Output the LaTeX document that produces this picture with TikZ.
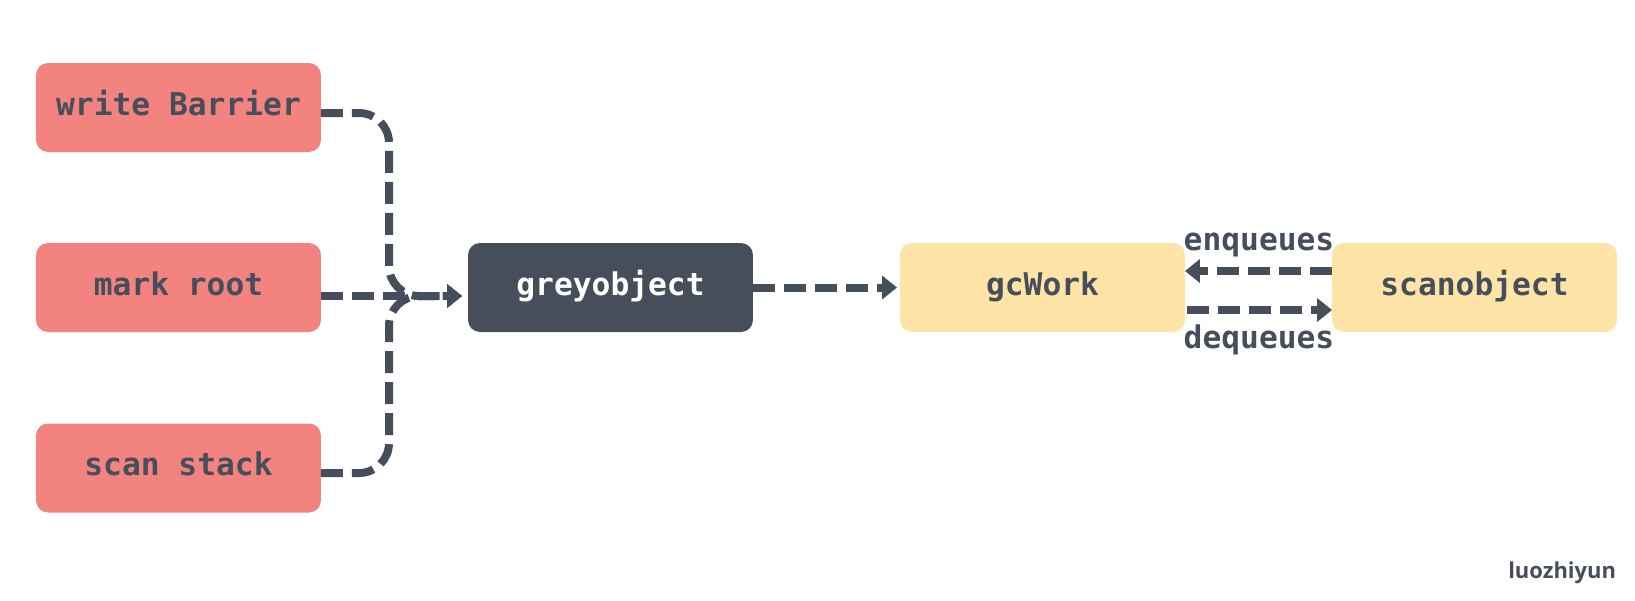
\documentclass[tikz,border=0pt]{standalone}
\usepackage{fontspec}
\setmonofont{DejaVu Sans Mono}
\newfontfamily\markfont{Open Sans}
\usetikzlibrary{arrows.meta}
\definecolor{boxred}{HTML}{F2837F}
\definecolor{boxyellow}{HTML}{FEE4A6}
\definecolor{slate}{HTML}{474E5B}

\begin{document}
\begin{tikzpicture}[x=0.02cm,y=-0.02cm]
\tikzstyle{every node}+=[inner sep=0pt, outer sep=0pt]
\tikzstyle{codefont}=[font=\ttfamily\bfseries\fontsize{17.8}{20}\selectfont]
\tikzstyle{box}=[codefont, rounded corners=0.24cm, minimum width=5.7cm, minimum height=1.78cm, text height=0.3cm, text depth=0pt, text=slate]
\tikzstyle{flow}=[slate, line width=0.16cm, dash pattern=on 0.44cm off 0.18cm, -{Triangle[length=0.3cm,width=0.46cm]}]
\useasboundingbox (0,0) rectangle (1635,600);
% sources
\node [box, fill=boxred] (write) at (178.5,107.5) {write Barrier};
\node [box, fill=boxred] (mark) at (178.5,287.5) {mark root};
\node [box, fill=boxred] (scan) at (178.5,468) {scan stack};
% queue side
\node [box, fill=slate, text=white] (grey) at (610.5,287.5) {greyobject};
\node [box, fill=boxyellow] (gc) at (1042.5,287.5) {gcWork};
\node [box, fill=boxyellow] (scanobj) at (1474.5,287.5) {scanobject};
\coordinate (bus) at (389,296);
\coordinate (in) at (462,296);
% arrows into greyobject
\draw [flow, rounded corners=0.6cm] ([yshift=-0.11cm]write.east) -| (bus) -- (in);
\draw [flow, rounded corners=0.6cm] ([yshift=-0.1cm]scan.east) -| (bus) -- (in);
\draw [flow] (mark.east |- in) -- (in);
\draw [flow, shorten >=0.06cm] (grey) -- (gc);
\draw [flow] ([yshift=0.33cm]scanobj.west) -- ([yshift=0.33cm]gc.east);
\draw [flow, shorten <=0.04cm] ([yshift=-0.45cm]gc.east) -- ([yshift=-0.45cm]scanobj.west);
\node [codefont, text=slate, anchor=base] (enq) at (1259,250) {enqueues};
\node [codefont, text=slate, anchor=base] (deq) at (1259,348) {dequeues};
\node [font=\markfont\bfseries\fontsize{12.5}{14}\selectfont, text=slate, anchor=base east] (sign) at (1616,578) {luozhiyun};
\end{tikzpicture}
\end{document}
